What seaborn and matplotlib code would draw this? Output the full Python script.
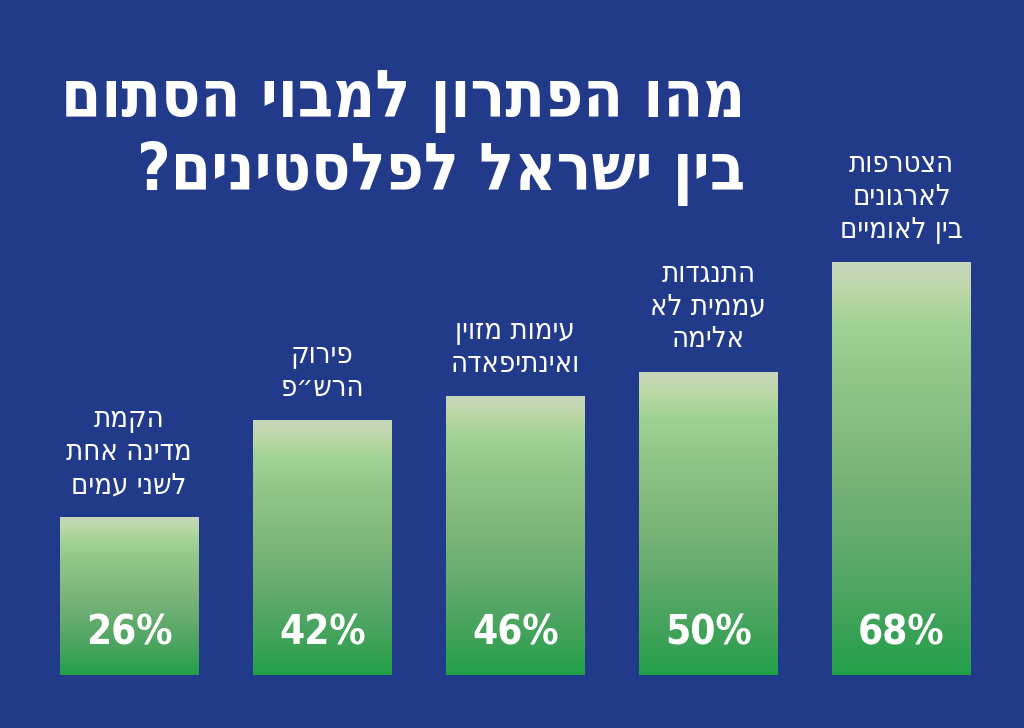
import numpy as np
import pandas as pd
import matplotlib
matplotlib.use("Agg")
import matplotlib.pyplot as plt
from matplotlib.colors import LinearSegmentedColormap
import seaborn as sns

# ---- data ----
categories = [
    "הקמת\nמדינה אחת\nלשני עמים",
    "פירוק\nהרש״פ",
    "עימות מזוין\nואינתיפאדה",
    "התנגדות\nעממית לא\nאלימה",
    "הצטרפות\nלארגונים\nבין לאומיים",
]
values = [26, 42, 46, 50, 68]
title_lines = ["מהו הפתרון למבוי הסתום", "בין ישראל לפלסטינים?"]

BG = "#213a89"

def rtl(s):
    # matplotlib lays glyphs left-to-right; reverse each line for Hebrew display
    return "\n".join(line[::-1] for line in s.split("\n"))

sns.set_theme(style="white")
plt.rcParams["font.family"] = ["DejaVu Sans"]

df = pd.DataFrame({"cat": [rtl(c) for c in categories], "val": values})

fig = plt.figure(figsize=(10.24, 7.28), dpi=100, facecolor=BG)
ax = fig.add_axes([32.5 / 1024, 53 / 728, (998 - 32.5) / 1024, 607 / 728])
ax.set_facecolor(BG)

sns.barplot(data=df, x="cat", y="val", ax=ax, width=0.715, color="#8cc084",
            saturation=1, edgecolor="none")
ax.set_xlim(-0.5, 4.5)
ax.set_ylim(0, 100)
ax.axis("off")

cmap = LinearSegmentedColormap.from_list("g", [
    (0.0, "#22a04a"),
    (0.12, "#3da258"),
    (0.30, "#5ea96a"),
    (0.50, "#7bb57a"),
    (0.70, "#8fc487"),
    (0.85, "#a0d294"),
    (0.93, "#bcd7a6"),
    (1.0, "#c6d8bd"),
])
grad = np.linspace(0, 1, 256).reshape(-1, 1)

for p, v, c in zip(ax.patches, values, categories):
    x0, w, h = p.get_x(), p.get_width(), p.get_height()
    im = ax.imshow(grad, cmap=cmap, origin="lower", aspect="auto",
                   extent=[x0, x0 + w, 0, h], zorder=p.get_zorder() + 0.1,
                   vmin=0, vmax=1)
    im.set_clip_path(p)
    ax.text(x0 + w / 2, 6.9, f"{v}%", ha="center", va="center", color="white",
            fontsize=29, fontweight="bold", fontstretch="condensed", zorder=5)
    ax.text(x0 + w / 2, h + 3.0, rtl(c), ha="center", va="bottom", color="white",
            fontsize=21, fontstretch="condensed", linespacing=1.22, zorder=5)

ax.set_xlim(-0.5, 4.5)
ax.set_ylim(0, 100)

fig.text(745 / 1024, 1 - 117 / 728, rtl(title_lines[0]), ha="right", va="baseline",
         color="white", fontsize=46.5, fontweight="bold", fontstretch="condensed")
fig.text(745 / 1024, 1 - 190 / 728, rtl(title_lines[1]), ha="right", va="baseline",
         color="white", fontsize=46.5, fontweight="bold", fontstretch="condensed")

fig.savefig("out.png", dpi=100, facecolor=BG)
